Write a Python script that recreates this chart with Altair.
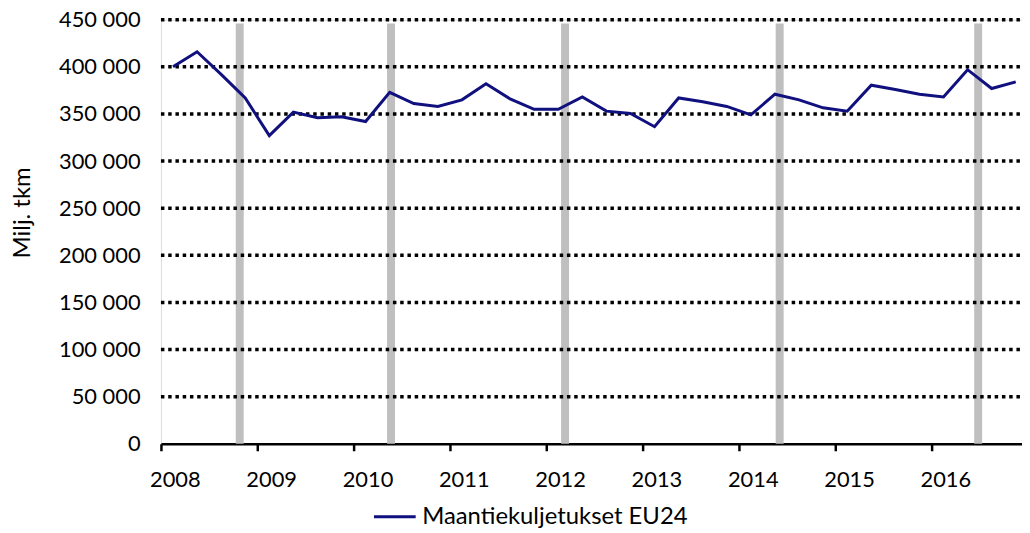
import altair as alt
import pandas as pd

# ---- data ----
years = [2008, 2009, 2010, 2011, 2012, 2013, 2014, 2015, 2016]
quarters = [1, 2, 3, 4]
road_tkm = [
    400000, 416000, 392000, 367000,   # 2008
    327000, 352000, 346000, 347000,   # 2009
    342000, 373000, 361000, 358000,   # 2010
    365000, 382000, 366000, 355000,   # 2011
    355000, 368000, 353000, 350500,   # 2012
    336500, 367000, 363000, 358000,   # 2013
    349000, 371000, 365000, 356500,   # 2014
    353000, 380500, 376000, 371000,   # 2015
    368000, 397000, 377000, 384000,   # 2016
]
series_name = "Maantiekuljetukset EU24"
event_marks = [2008.818, 2010.389, 2012.196, 2014.424, 2016.485]
y_ticks = [0, 50000, 100000, 150000, 200000, 250000, 300000, 350000, 400000, 450000]
grid_values = y_ticks[1:]

rows = []
i = 0
for yr in years:
    for q in quarters:
        rows.append({"t": yr + (q - 0.5) / 4.0, "v": road_tkm[i], "s": series_name})
        i += 1
df = pd.DataFrame(rows)
ev = pd.DataFrame({"t": event_marks, "v": [446000] * len(event_marks)})
gd = pd.DataFrame({"v": grid_values})

W, H = 867, 427
FONT = "Lato"
xscale = alt.Scale(domain=[2008, 2016.94], nice=False, zero=False)
yscale = alt.Scale(domain=[0, 450000], nice=False)

xaxis = alt.Axis(
    values=years,
    format="d",
    title=None,
    grid=False,
    domainColor="black",
    domainWidth=2.5,
    tickColor="black",
    tickWidth=2.5,
    tickSize=7,
    labelOffset=14,
    labelPadding=19,
    labelFont=FONT,
    labelFontSize=22,
    labelColor="black",
    labelFlush=False,
)
yaxis = alt.Axis(
    values=y_ticks,
    labelExpr="replace(format(datum.value, ','), ',', ' ')",
    title="Milj. tkm",
    titleFont=FONT,
    titleFontSize=24,
    titleFontWeight="normal",
    titleColor="black",
    titleAngle=270,
    titleX=-139,
    titleY=194,
    titleAlign="center",
    titleBaseline="middle",
    grid=False,
    domain=False,
    ticks=False,
    labelPadding=21,
    labelFont=FONT,
    labelFontSize=22,
    labelColor="black",
)

bars = alt.Chart(ev).mark_rule(color="#BFBFBF", strokeWidth=8).encode(
    x=alt.X("t:Q", scale=xscale, axis=xaxis),
    y=alt.Y("v:Q", scale=yscale, axis=yaxis),
    y2=alt.value(H),
)

grid = alt.Chart(gd).mark_rule(color="black", strokeWidth=3.5, strokeDash=[3.5, 3.8]).encode(
    y=alt.Y("v:Q", scale=yscale, axis=yaxis),
    x=alt.value(0),
    x2=alt.value(W),
)

line = alt.Chart(df).mark_line(strokeWidth=3, color="#10107f").encode(
    x=alt.X("t:Q", scale=xscale, axis=xaxis),
    y=alt.Y("v:Q", scale=yscale, axis=yaxis),
    color=alt.Color(
        "s:N",
        scale=alt.Scale(domain=[series_name], range=["#10107f"]),
        legend=alt.Legend(
            title=None,
            orient="none",
            legendX=213,
            legendY=478,
            symbolType="stroke",
            symbolSize=1764,
            symbolStrokeWidth=3,
            labelFont=FONT,
            labelFontSize=24,
            labelColor="black",
            labelLimit=500,
            labelOffset=5,
        ),
    ),
)

chart = (
    alt.layer(bars, grid, line)
    .properties(
        width=W,
        height=H,
        autosize=alt.AutoSizeParams(type="none"),
        padding={"left": 154, "top": 10, "right": 0, "bottom": 88},
    )
    .configure_view(stroke=None)
    .configure(font=FONT)
)

chart.save("out.html", embed_options={"renderer": "svg", "actions": False})
